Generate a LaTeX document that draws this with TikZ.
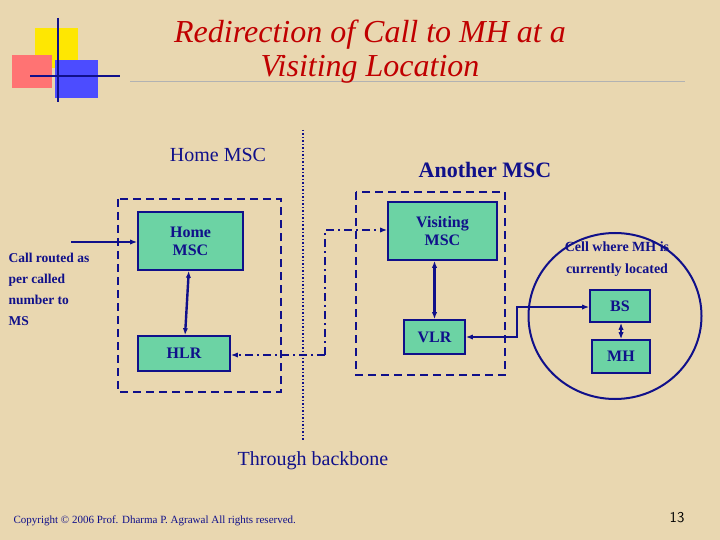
\documentclass[tikz,border=0pt]{standalone}
\usepackage{fontspec}
\setmainfont{Liberation Serif}
\usetikzlibrary{arrows.meta,shapes.geometric}
\definecolor{bg}{HTML}{E9D7B0}
\definecolor{navy}{HTML}{10108A}
\definecolor{boxg}{HTML}{6CD3A4}
\definecolor{ttl}{HTML}{C00000}
\tikzset{
 blk/.style={draw=navy,line width=1.6pt,fill=boxg,text=navy,font=\bfseries\fontsize{16}{18}\selectfont,align=center,inner sep=0pt},
 dbox/.style={draw=navy,line width=1.6pt,dash pattern=on 8pt off 5pt},
 conn/.style={draw=navy,line width=2.4pt},
 dd/.style={draw=navy,line width=2.4pt,dash pattern=on 8pt off 4pt on 2pt off 4pt},
 lbl/.style={text=navy,font=\fontsize{20}{22}\selectfont}
}
\begin{document}
\begin{tikzpicture}[x=1pt,y=-1pt]
\useasboundingbox (0,0) rectangle (720,540);
\fill[bg] (0,0) rectangle (720,540);
% logo
\fill[yellow!90!orange] (35,28) rectangle (78,68);
\fill[red!40!pink] (12,55) rectangle (52,88);
\fill[blue!70!white] (55,60) rectangle (98,98);
\draw[navy,line width=1.2pt] (58,18) -- (58,102);
\draw[navy,line width=1.2pt] (30,76) -- (120,76);
\draw[gray!60,line width=1pt] (130,82) -- (685,82);
\node[text=ttl,font=\itshape\fontsize{32}{34}\selectfont,align=center] (title) at (370,52) {Redirection of Call to MH at a\\Visiting Location};
% labels
\node[lbl] (homel) at (218,155) {Home MSC};
\node[lbl,font=\bfseries\fontsize{22}{24}\selectfont] (anol) at (485,170) {Another MSC};
\node[lbl] (bb) at (313,461) {Through backbone};
\node[text=navy,font=\bfseries\fontsize{13.5}{21}\selectfont,align=left,anchor=north west] (call) at (5,250) {Call routed as\\per called\\number to\\MS};
% dashed boxes
\draw[dbox] (118,199) rectangle (281,392);
\draw[dbox] (356,192) rectangle (505,375);
\draw[navy,line width=1.5pt,dotted] (303,130) -- (303,440);
% circle
\node[draw=navy,line width=2pt,ellipse,minimum width=173pt,minimum height=166pt,inner sep=0pt] (cell) at (615,316) {};
\node[text=navy,font=\bfseries\fontsize{14}{22}\selectfont,align=center] (celll) at (617,259) {Cell where MH is\\currently located};
% blocks
\node[blk,minimum width=105pt,minimum height=58pt] (hmsc) at (190.5,241) {Home\\MSC};
\node[blk,minimum width=92pt,minimum height=35pt] (hlr) at (184,353.5) {HLR};
\node[blk,minimum width=109pt,minimum height=58pt] (vmsc) at (442.5,231) {Visiting\\MSC};
\node[blk,minimum width=61pt,minimum height=34pt] (vlr) at (434.5,337) {VLR};
\node[blk,minimum width=60pt,minimum height=32pt] (bs) at (620,306) {BS};
\node[blk,minimum width=58pt,minimum height=33pt] (mh) at (621,356.5) {MH};
% connectors
\coordinate (in) at (71,242);
\draw[conn,-{Latex[length=7pt]}] (in) -- (hmsc.west|-in);
\draw[conn,{Latex[length=7pt]}-{Latex[length=7pt]}] (hmsc) -- (hlr);
\draw[conn,{Latex[length=7pt]}-{Latex[length=7pt]}] (vmsc.south-|vlr) -- (vlr);
\draw[conn,{Latex[length=7pt]}-{Latex[length=7pt]}] (bs.south-|mh) -- (mh);
\draw[conn,{Latex[length=7pt]}-{Latex[length=7pt]}] (vlr.east) -- (517,337) -- (517,307) -- (bs.west|-0,307);
\draw[dd,-{Latex[length=7pt]}] (325,355) -- (hlr.east|-0,355);
\draw[dd,-{Latex[length=7pt]}] (325,355) -- (325,230) -- (vmsc.west|-0,230);
% footer
\node[text=navy,font=\fontsize{11}{13}\selectfont,anchor=west] (copy) at (10,521) {Copyright © 2006 Prof. Dharma P. Agrawal All rights reserved.};
\node[font=\sffamily\fontsize{15}{17}\selectfont] (pg) at (677,518) {13};
\end{tikzpicture}
\end{document}
